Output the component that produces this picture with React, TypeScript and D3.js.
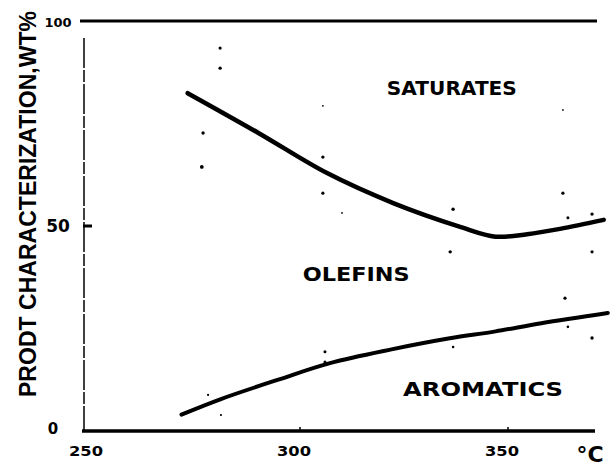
import React from "react";
import * as d3 from "d3";

const xTicks = [250, 300, 350];
const xTickLabels = ["250", "300", "350"];
const yTicks = [0, 50, 100];
const yTickLabels = ["0", "50", "100"];

// boundary between olefins and saturates (cumulative wt%)
const satTemp = [273, 290, 306.5, 322.4, 338.5, 347, 354.6, 362.5, 373];
const satValue = [82.4, 72.7, 62.9, 55.6, 49.8, 47.4, 48.0, 49.3, 51.5];

// boundary between aromatics and olefins
const aroTemp = [271.5, 281, 295, 307, 322, 336, 347, 358, 374];
const aroValue = [4, 7.8, 12.6, 16.5, 19.9, 22.6, 24.3, 26.3, 28.8];

// scattered data points
const ptTemp = [280.8, 280.8, 276.7, 276.4, 305.5, 305.5, 305.5, 310.1, 336.8, 363.2, 363.2, 364.4, 370.2, 336.1, 370.2, 363.7, 364.4, 370.2, 336.8, 306, 306, 277.9, 281];
const ptValue = [93.4, 88.5, 72.7, 64.4, 79.3, 66.8, 58.0, 53.2, 54.1, 78.3, 58.0, 52.0, 52.9, 43.7, 43.7, 32.4, 25.4, 22.7, 20.5, 19.3, 16.8, 8.8, 3.9];
const ptSize = [1.6, 1.7, 1.7, 1.9, 0.9, 1.7, 1.6, 0.9, 1.7, 0.9, 1.6, 1.5, 1.7, 1.7, 1.6, 1.6, 1.3, 1.7, 1.3, 1.5, 1.5, 1.1, 1.1];

const regionLabels = ["SATURATES", "OLEFINS", "AROMATICS"];
const regionTemp = [336.5, 313.5, 344];
const regionValue = [83.8, 38.5, 10.5];
const regionWidth = [130, 107, 160];

export default function App() {
  const x = d3.scaleLinear().domain([250, 350]).range([92, 508]);
  const y = d3.scaleLinear().domain([0, 100]).range([431, 21]);

  const line = d3
    .line<[number, number]>()
    .x((d) => x(d[0]))
    .y((d) => y(d[1]))
    .curve(d3.curveCatmullRom.alpha(0.5));

  const sat: [number, number][] = satTemp.map((t, i) => [t, satValue[i]]);
  const aro: [number, number][] = aroTemp.map((t, i) => [t, aroValue[i]]);

  const font = "'DejaVu Sans', sans-serif";
  const titleFont = "'Liberation Sans', Arial, sans-serif";
  const yPos = [429, 226, 22];
  const yX = [53, 58, 58];
  const ySize = [15, 17, 13];

  return (
    <svg
      width={614}
      height={466}
      style={{ position: "absolute", left: 0, top: 0, background: "#fff" }}
    >
      <rect x={0} y={0} width={614} height={466} fill="#fff" />
      {/* frame */}
      <line x1={80} x2={597} y1={y(100)} y2={y(100)} stroke="#000" strokeWidth={3} />
      <line x1={82} x2={595} y1={y(0)} y2={y(0)} stroke="#000" strokeWidth={3.5} />
      <line x1={84} x2={84} y1={38} y2={y(0)} stroke="#000" strokeWidth={1.5} strokeDasharray="30 2 12 2" />
      {/* y tick at 50 */}
      <line x1={83} x2={92} y1={y(50)} y2={y(50)} stroke="#000" strokeWidth={3} />
      {/* x ticks */}
      {xTicks.slice(1).map((t) => (
        <line key={t} x1={x(t)} x2={x(t)} y1={y(0) - 4} y2={y(0)} stroke="#000" strokeWidth={1.5} />
      ))}
      {/* tick labels */}
      {xTicks.map((t, i) => (
        <text
          key={t}
          x={x(t) - 6}
          y={456}
          textAnchor="middle"
          fontFamily={font}
          fontWeight="bold"
          fontSize={14}
          textLength={34}
          lengthAdjust="spacingAndGlyphs"
        >
          {xTickLabels[i]}
        </text>
      ))}
      <text x={590} y={462} textAnchor="middle" fontFamily={font} fontWeight="bold" fontSize={22}>
        °C
      </text>
      {yTicks.map((t, i) => (
        <text
          key={t}
          x={yX[i]}
          y={yPos[i] + ySize[i] * 0.36}
          textAnchor="middle"
          fontFamily={font}
          fontWeight="bold"
          fontSize={ySize[i]}
        >
          {yTickLabels[i]}
        </text>
      ))}
      {/* y axis title */}
      <text
        transform="translate(36,204) rotate(-90)"
        textAnchor="middle"
        fontFamily={titleFont}
        fontWeight="bold"
        fontSize={23}
        textLength={386}
        lengthAdjust="spacingAndGlyphs"
      >
        PRODT CHARACTERIZATION,WT%
      </text>
      {/* curves */}
      <path d={line(sat) || ""} fill="none" stroke="#000" strokeWidth={4.5} strokeLinecap="round" />
      <path d={line(aro) || ""} fill="none" stroke="#000" strokeWidth={4} strokeLinecap="round" />
      {/* points */}
      {ptTemp.map((t, i) => (
        <circle key={i} cx={x(t)} cy={y(ptValue[i])} r={ptSize[i]} fill="#000" />
      ))}
      {/* region labels */}
      {regionLabels.map((l, i) => (
        <text
          key={l}
          x={x(regionTemp[i])}
          y={y(regionValue[i]) + 8}
          textAnchor="middle"
          fontFamily={font}
          fontWeight="bold"
          fontSize={20}
          textLength={regionWidth[i]}
          lengthAdjust="spacingAndGlyphs"
        >
          {l}
        </text>
      ))}
    </svg>
  );
}
